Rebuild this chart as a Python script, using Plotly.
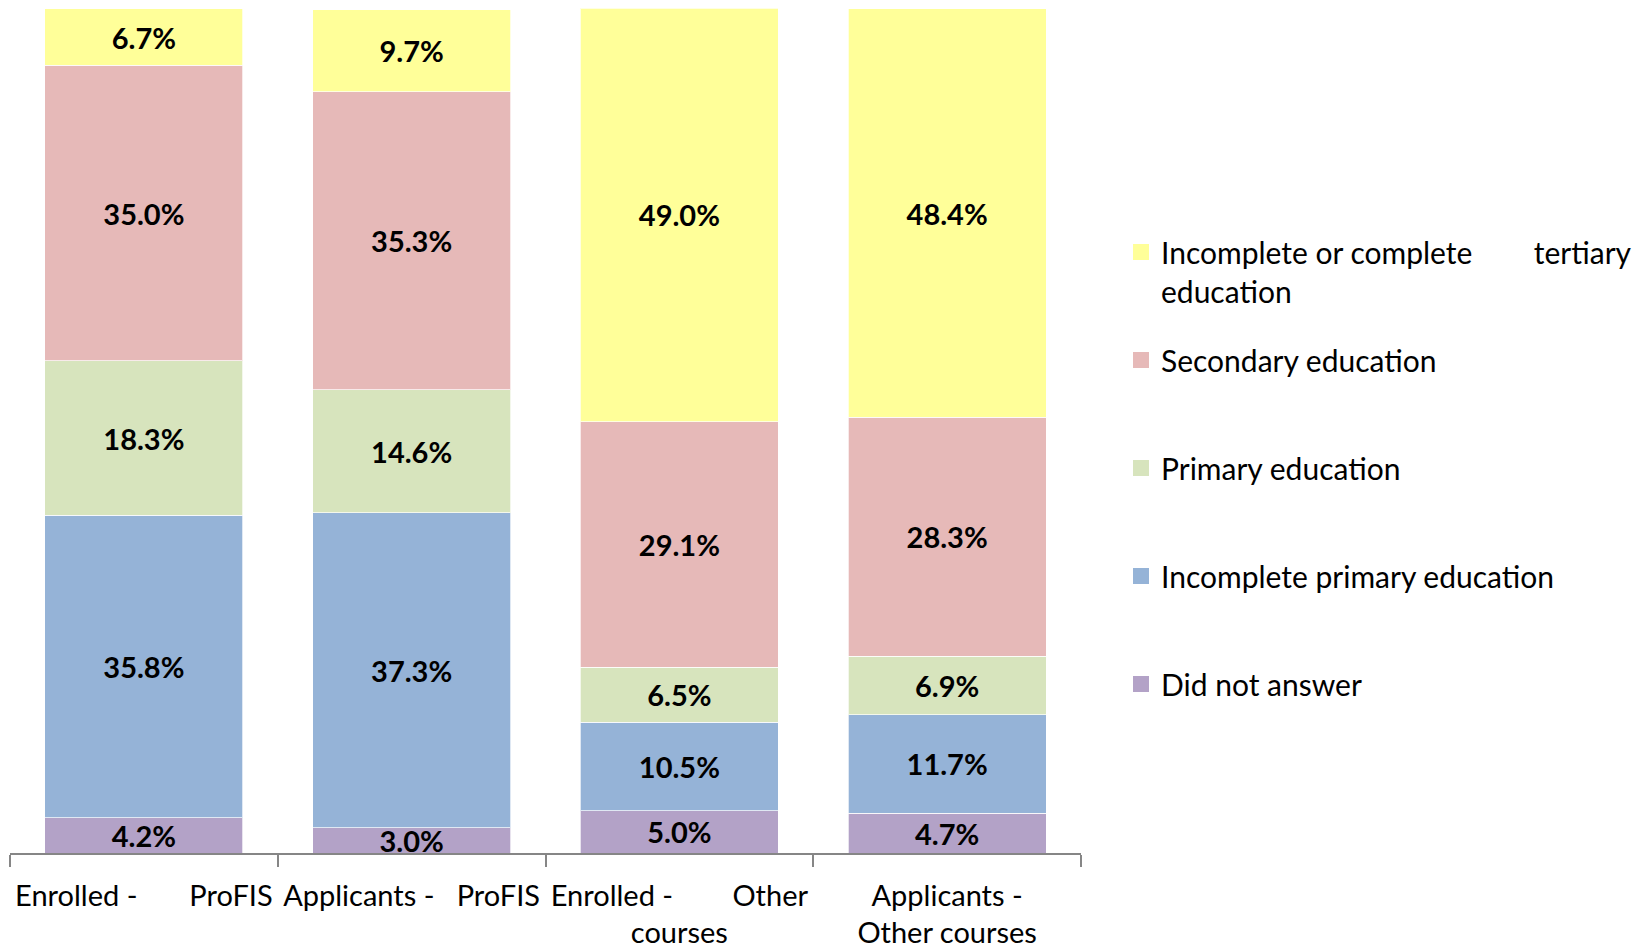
import plotly.graph_objects as go

NB = "\u00a0"
categories = ["Enrolled - ProFIS", "Applicants - ProFIS", "Enrolled - Other courses", "Applicants - Other courses"]
tick_labels = [
    "Enrolled -" + NB * 7 + "ProFIS",
    "Applicants -" + NB * 3 + "ProFIS",
    "Enrolled -" + NB * 8 + "Other<br>courses",
    "Applicants -<br>Other courses",
]

did_not_answer = [4.2, 3.0, 5.0, 4.7]
incomplete_primary = [35.8, 37.3, 10.5, 11.7]
primary = [18.3, 14.6, 6.5, 6.9]
secondary = [35.0, 35.3, 29.1, 28.3]
tertiary = [6.7, 9.7, 49.0, 48.4]

series = [
    ("Did not answer", did_not_answer, "#B3A2C7", "legend2", 4),
    ("Incomplete primary education", incomplete_primary, "#95B3D7", "legend2", 3),
    ("Primary education", primary, "#D7E4BD", "legend2", 2),
    ("Secondary education", secondary, "#E6B9B8", "legend2", 1),
    ("Incomplete or complete" + NB * 8 + "tertiary<br>education", tertiary, "#FFFF99", "legend", 0),
]

FONT = "Lato, 'Open Sans', sans-serif"
fig = go.Figure()
for i, (name, vals, color, lg, rank) in enumerate(series):
    fig.add_trace(go.Bar(
        x=categories, y=vals, name=name,
        marker=dict(color=color, line=dict(color="rgba(255,255,255,0.7)", width=1)),
        texttemplate="%{y:.1f}%", textposition="inside", insidetextanchor="middle",
        textfont=dict(family=FONT, size=29, color="black", weight="bold"),
        legendgroup="g%d" % i, showlegend=False,
    ))
# legend keys (larger square swatches, like the original)
for i, (name, vals, color, lg, rank) in enumerate(series):
    fig.add_trace(go.Scatter(
        x=[None], y=[None], mode="markers", name=name,
        marker=dict(symbol="square", size=16, color=color),
        legend=lg, legendgroup="g%d" % i, legendrank=rank + 1, showlegend=True,
        hoverinfo="skip",
    ))

fig.update_layout(
    width=1644, height=950,
    barmode="stack", bargap=0.26,
    plot_bgcolor="white", paper_bgcolor="white",
    margin=dict(l=2, r=571, t=0, b=105),
    font=dict(family=FONT, size=29, color="black"),
    uniformtext=dict(minsize=29, mode="show"),
    showlegend=True,
    xaxis=dict(
        tickvals=categories, ticktext=tick_labels, tickangle=0, automargin=False,
        showline=True, linecolor="#868686", linewidth=1.5,
        ticks="outside", ticklen=12, tickcolor="#868686", tickwidth=1.5,
        tickson="boundaries", showgrid=False, ticklabelstandoff=16,
        tickfont=dict(family=FONT, size=29, color="black"),
    ),
    yaxis=dict(range=[0, 100.1], visible=False, showgrid=False),
    legend=dict(
        xref="container", yref="container", x=1113 / 1644, y=1 - 218 / 950,
        xanchor="left", yanchor="top", valign="top", visible=True, itemsizing="trace",
        font=dict(family=FONT, size=30, color="black"), bgcolor="rgba(0,0,0,0)",
    ),
    legend2=dict(
        xref="container", yref="container", x=1113 / 1644, y=1 - 326 / 950,
        xanchor="left", yanchor="top", traceorder="grouped", tracegroupgap=66,
        visible=True, itemsizing="trace",
        font=dict(family=FONT, size=30, color="black"), bgcolor="rgba(0,0,0,0)",
    ),
)

fig.write_html("out.html")
